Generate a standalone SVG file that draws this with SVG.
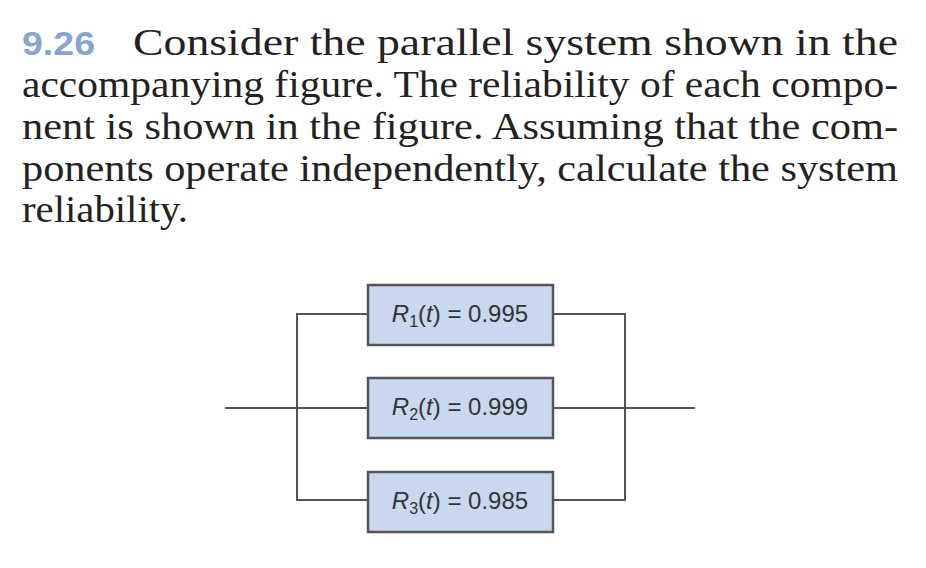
<svg xmlns="http://www.w3.org/2000/svg" width="926" height="568" viewBox="0 0 926 568">
<style>
.t{font-family:"Liberation Serif",serif;font-size:38px;fill:#222}
.b{fill:#c9d8ee;stroke:#555;stroke-width:2.5}
.w{fill:none;stroke:#555;stroke-width:2}
.l{font-family:"Liberation Sans",sans-serif;font-size:24px;fill:#333}
.i{font-style:italic}
</style>
<rect width="926" height="568" fill="#fff"/>
<g id="text">
<text x="22" y="55" font-family="Liberation Sans,sans-serif" font-size="34" font-weight="bold" fill="#86a6cf" textLength="73" lengthAdjust="spacingAndGlyphs">9.26</text>
<text class="t" x="133" y="55" textLength="765" lengthAdjust="spacingAndGlyphs">Consider the parallel system shown in the</text>
<text class="t" x="22" y="97" textLength="876" lengthAdjust="spacingAndGlyphs">accompanying figure. The reliability of each compo-</text>
<text class="t" x="22" y="139" textLength="876" lengthAdjust="spacingAndGlyphs">nent is shown in the figure. Assuming that the com-</text>
<text class="t" x="22" y="181" textLength="876" lengthAdjust="spacingAndGlyphs">ponents operate independently, calculate the system</text>
<text class="t" x="22" y="222" textLength="166" lengthAdjust="spacingAndGlyphs">reliability.</text>
</g>
<g id="connectors">
<path class="w" d="M225 408H368M553 408H695"/>
<path class="w" d="M368 314H297V500H368M553 314H625V500H553"/>
</g>
<g id="r1"><rect class="b" x="368" y="285" width="185" height="60"/>
<text class="l" x="460" y="322" text-anchor="middle"><tspan class="i">R</tspan><tspan font-size="16" dy="5">1</tspan><tspan dy="-5">(</tspan><tspan class="i">t</tspan>) = 0.995</text></g>
<g id="r2"><rect class="b" x="368" y="378" width="185" height="60"/>
<text class="l" x="460" y="415" text-anchor="middle"><tspan class="i">R</tspan><tspan font-size="16" dy="5">2</tspan><tspan dy="-5">(</tspan><tspan class="i">t</tspan>) = 0.999</text></g>
<g id="r3"><rect class="b" x="368" y="472" width="185" height="60"/>
<text class="l" x="460" y="509" text-anchor="middle"><tspan class="i">R</tspan><tspan font-size="16" dy="5">3</tspan><tspan dy="-5">(</tspan><tspan class="i">t</tspan>) = 0.985</text></g>
</svg>
